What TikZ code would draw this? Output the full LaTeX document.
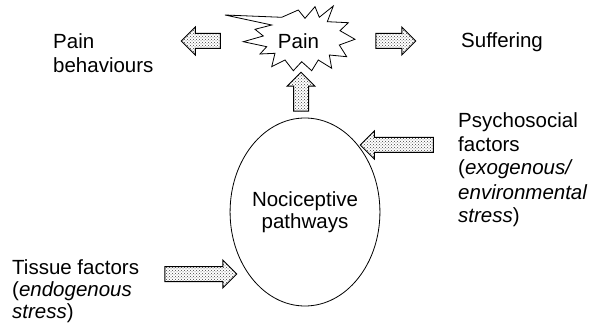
\documentclass[tikz,border=0pt]{standalone}
\usepackage{fontspec}
\setmainfont{Liberation Sans}
\usetikzlibrary{shapes.geometric,shapes.arrows,patterns}
\tikzset{
  every picture/.style={line join=miter},
  lbl/.style={font=\fontsize{20.5}{24}\selectfont, inner sep=0pt},
  fat/.style={single arrow, draw, line width=1pt, pattern=crosshatch dots, pattern color=black!75,
    inner xsep=0pt, inner ysep=7pt, single arrow head extend=6.5pt, single arrow tip angle=90,
    single arrow head indent=0pt, minimum width=27pt},
}
\begin{document}
\begin{tikzpicture}[x=1pt,y=-1pt]
\useasboundingbox (0,0) rectangle (597,323);
\draw[line width=0.8pt] (225,15)--(281.7,17.3)--(298.3,10)--(305,18.3)--(315,6.7)--(319.3,17.3)--(333.3,6)--(327.3,21.7)--(348.3,22.7)--(340,30.7)--(355,39.3)--(339.3,45)--(346.7,56.7)--(329.3,55)--(331.7,68.3)--(318.3,60)--(311.7,70.7)--(301.7,61.7)--(293.3,70.7)--(285,60)--(271.7,66.7)--(275,53.3)--(260,54)--(266.7,46.7)--(243.3,41.7)--(263.3,36)--(255,29.3)--(271.7,25)--cycle;
\node[lbl] (pain) at (298.5,41) {Pain};
\node[ellipse, draw, line width=0.8pt, minimum width=144pt, minimum height=188pt, lbl, font=\fontsize{20.5}{22}\selectfont, align=center] (noci) at (305,212) {Nociceptive\\pathways};
\node[lbl, anchor=base west, align=left] (behav) at (53,73) {Pain\\behaviours};
\node[lbl, anchor=base west] (suff) at (461,48) {Suffering};
\node[lbl, anchor=base west, align=left] (psycho) at (458,223) {Psychosocial\\factors\\(\textit{exogenous/}\\\textit{environmental}\\\textit{stress})};
\node[lbl, font=\fontsize{20.5}{22}\selectfont, anchor=base west, align=left] (tissue) at (12,318) {Tissue factors\\(\textit{endogenous}\\\textit{stress})};
\node[fat, minimum height=39pt, rotate=180] (arrbehav) at (204.5,41) {};
\node[fat, minimum height=40pt] (arrsuff) at (392,41) {};
\node[fat, minimum height=39pt, rotate=90] (arrup) at (301,95.5) {};
\node[fat, minimum height=73pt, rotate=180] (arrpsycho) at (400.5,145) {};
\node[fat, minimum height=72pt] (arrtissue) at (197,274) {};
\end{tikzpicture}
\end{document}
